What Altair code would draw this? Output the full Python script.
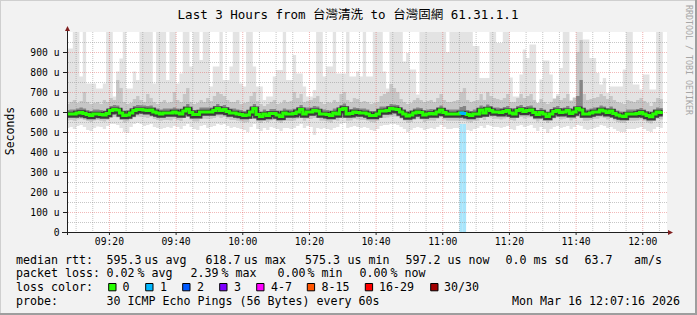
import altair as alt
import pandas as pd

# ---------------- data (one sample per minute, first sample starts 09:07) ----------------
med = [590,590,590,595,598,592,588,583,590,590,
       588,585,593,607,612,610,595,583,585,595,
       607,612,612,610,607,610,600,595,590,595,
       595,595,600,595,590,605,615,597,587,587,
       600,600,600,600,607,617,607,612,603,595,
       595,590,588,583,585,600,617,587,578,590,
       583,593,593,585,578,595,590,590,592,600,
       612,590,600,600,607,605,590,590,587,583,
       595,590,612,618,590,592,600,598,595,595,
       590,583,583,590,605,605,607,617,615,612,
       600,590,580,585,595,600,597,585,590,593,
       590,600,610,598,590,590,590,590,595,592,
       587,583,590,590,610,595,615,607,600,600,
       597,603,607,595,590,607,612,603,607,610,
       598,587,598,590,578,590,603,607,597,600,
       607,592,600,617,610,590,590,595,600,600,
       610,605,597,605,592,585,580,578,590,590,
       590,593,598,590,583,576,590,600,597]

vmax = [918,918,1050,1050,777,1050,743,743,743,718,
        718,743,1050,1050,677,802,868,1050,718,718,
        802,760,1050,1050,1050,1050,743,1050,1050,1050,
        760,1050,1050,743,793,1050,1050,827,1050,1050,
        860,1050,1050,727,827,827,1050,760,760,827,
        1050,1050,743,727,1050,1050,827,727,727,660,
        677,677,777,810,810,1050,760,760,885,793,
        793,727,677,677,710,1050,1050,777,827,827,
        1050,793,793,793,1050,777,777,802,778,1050,
        777,777,1050,1050,1050,802,718,1050,1050,1050,
        1050,853,895,812,812,687,1050,1050,1050,1050,
        1050,1050,1050,1050,900,1050,1050,1050,1050,1050,
        1050,1050,930,930,770,770,770,1050,1050,945,
        945,1050,1050,773,678,678,787,912,870,937,
        937,645,762,857,857,787,670,690,820,1050,
        1050,660,675,1050,1050,962,962,870,870,795,
        737,770,695,728,728,728,728,812,1050,1050,
        737,737,712,787,787,712,712,1050,1050]

p90 = [640,650,660,645,655,700,650,640,645,650,
       640,660,650,670,660,760,720,650,640,645,
       665,680,660,650,690,670,650,640,650,660,
       645,650,700,660,650,690,720,650,640,645,
       660,650,670,655,680,700,690,680,660,650,
       650,660,640,645,650,680,700,655,640,630,
       640,650,660,640,645,660,650,655,700,670,
       690,650,655,660,670,680,650,640,650,645,
       660,650,690,700,660,650,670,665,650,655,
       650,640,645,650,680,690,700,740,720,700,
       665,650,640,645,660,670,660,650,655,660,
       650,670,690,660,650,650,655,660,700,720,
       660,650,655,660,690,660,700,680,670,665,
       660,670,690,650,650,670,690,670,680,690,
       660,645,665,650,640,650,665,680,660,670,
       690,655,670,900,960,690,660,665,670,675,
       690,680,665,680,660,650,645,640,660,655,
       650,660,670,655,645,630,650,670,665]

p75 = [610,612,613,617,622,618,610,605,612,613,
       610,608,615,630,635,632,618,605,607,618,
       630,635,634,632,630,632,622,617,612,618,
       617,618,622,617,613,628,640,620,610,610,
       622,622,623,622,630,640,630,635,625,617,
       617,612,610,605,608,622,640,610,600,612,
       605,615,615,608,600,617,612,612,616,622,
       635,612,622,622,630,628,612,612,610,605,
       617,612,635,642,612,615,622,620,617,618,
       612,605,605,612,628,628,630,640,638,635,
       622,612,602,607,617,622,620,607,612,615,
       612,622,632,620,612,612,612,612,625,630,
       610,605,612,612,632,617,638,630,622,622,
       620,625,630,617,612,630,635,625,630,632,
       620,610,620,612,600,612,625,630,620,622,
       630,615,622,680,760,612,612,617,622,622,
       632,628,620,628,615,607,602,600,612,612,
       612,615,620,612,605,598,612,622,620]

p25 = [578,579,578,583,585,580,576,571,578,579,
       576,573,581,594,598,597,583,571,573,583,
       594,599,600,597,594,597,588,583,578,583,
       583,582,588,583,578,592,602,585,575,575,
       588,588,587,588,594,603,594,599,590,583,
       583,578,576,571,572,588,603,575,566,578,
       571,580,581,573,566,583,578,577,580,588,
       598,578,588,587,594,592,578,578,575,571,
       583,578,598,604,578,580,588,585,583,583,
       578,571,570,578,592,592,594,603,601,598,
       588,578,568,573,583,588,585,573,578,580,
       578,588,597,586,578,578,578,578,580,578,
       575,571,578,578,596,583,601,594,588,588,
       585,590,594,583,578,594,598,590,594,597,
       586,575,586,578,566,578,590,594,585,588,
       594,580,588,600,595,578,578,583,588,588,
       597,592,585,592,580,573,568,566,578,578,
       578,581,586,578,571,564,578,588,585]

p10 = [558,560,556,562,565,560,555,550,558,560,
       556,552,560,570,575,572,560,548,552,562,
       572,578,575,574,570,575,565,560,556,560,
       560,558,566,560,555,570,578,562,552,553,
       565,566,565,566,570,578,570,575,568,560,
       560,556,553,548,550,565,578,552,545,556,
       550,558,560,552,545,560,556,555,558,566,
       574,556,566,565,570,570,556,556,553,548,
       560,556,574,580,556,558,566,563,560,560,
       556,550,548,556,570,570,572,578,578,575,
       566,556,546,550,560,566,562,550,556,558,
       556,566,574,563,556,556,556,556,556,555,
       552,548,556,556,573,560,578,572,566,566,
       563,568,572,560,556,572,575,568,572,574,
       563,552,563,556,545,556,568,572,563,566,
       572,558,566,575,570,556,556,560,566,566,
       574,570,563,570,558,550,546,545,556,556,
       556,558,563,556,548,542,556,566,563]

vmin = [520,525,515,530,535,525,510,505,520,528,
        525,515,530,540,540,535,520,500,495,525,
        540,545,540,530,535,540,525,520,515,520,
        525,520,530,525,515,530,540,525,515,510,
        530,535,520,525,530,540,535,540,530,520,
        525,520,515,510,500,525,540,515,505,520,
        510,525,520,515,505,520,520,515,520,530,
        540,520,530,525,485,520,515,520,515,510,
        520,525,540,545,520,525,530,525,520,525,
        520,510,505,515,530,535,535,540,540,535,
        525,515,500,510,520,525,520,510,515,520,
        515,525,535,525,515,515,520,520,540,540,
        510,505,515,520,530,520,535,530,525,525,
        520,525,530,515,510,530,535,525,530,535,
        520,505,525,515,495,515,525,530,520,525,
        530,515,525,535,530,515,510,515,520,525,
        535,530,520,525,515,505,500,500,515,515,
        515,520,525,515,505,500,515,525,520]

loss_samples = [118, 119]      # samples with 1 of 30 pings lost
loss_count = [1, 1]

first_minute = 7               # 09:07 (minutes after 09:00)
t_start = 7 + 16 / 60          # 09:07:16
t_end = t_start + 180          # 12:07:16

tick_minutes = [20, 40, 60, 80, 100, 120, 140, 160, 180]
tick_labels = ["09:20", "09:40", "10:00", "10:20", "10:40", "11:00", "11:20", "11:40", "12:00"]
minor_minutes = [10, 15, 25, 30, 35, 45, 50, 55, 65, 70, 75, 85, 90, 95, 105, 110, 115,
                 125, 130, 135, 145, 150, 155, 165, 170, 175, 185]
y_major = [100, 200, 300, 400, 500, 600, 700, 800, 900]
y_minor = [50, 150, 250, 350, 450, 550, 650, 750, 850, 950]
y_ticks = [0, 100, 200, 300, 400, 500, 600, 700, 800, 900]
y_tick_labels = ["0", "100 u", "200 u", "300 u", "400 u", "500 u", "600 u", "700 u", "800 u", "900 u"]
y_title = "Seconds"

loss_labels = ["0", "1", "2", "3", "4-7", "8-15", "16-29", "30/30"]
loss_colors = ["#26ff00", "#00b8ff", "#0059ff", "#7e00ff", "#ff00ff", "#ff5500", "#ff0000", "#a10000"]

title_text = "Last 3 Hours from 台灣清洗 to 台灣固網 61.31.1.1"
legend_rows = [
    [("median rtt:", 16), ("595.3", 106.5), ("us avg", 144.5), ("618.7", 205.5), ("us max", 244),
     ("575.3", 305), ("us min", 347.5), ("597.2", 405.5), ("us now", 447.5), ("0.0 ms sd", 505.5),
     ("63.7", 584.5), ("am/s", 634)],
    [("packet loss:", 16), ("0.02", 106.5), ("% avg", 137.5), ("2.39", 190.5), ("% max", 221.5),
     ("0.00", 277.5), ("% min", 307.5), ("0.00", 359.5), ("% now", 390.5)],
    [("loss color:", 16)],
    [("probe:", 16), ("30 ICMP Echo Pings (56 Bytes) every 60s", 106.5), ("Mon Mar 16 12:07:16 2026", 512)],
]
legend_baselines = [263.5, 277.2, 291, 304.5]
swatch_x = [108.7, 145.7, 182.7, 219.7, 256.7, 307.3, 365.3, 430.7]
swatch_label_x = [122.5, 160, 197, 234, 271, 321.5, 379, 444]

# ---------------- layout ----------------
PL, PT, PW, PH = 67, 32, 600, 200
W, H = 697, 315
MONO = "DejaVu Sans Mono"

n = len(med)
cols = {"med": med, "vmax": vmax, "p90": p90, "p75": p75, "p25": p25, "p10": p10, "vmin": vmin}
step_df = pd.DataFrame({k: v + [v[-1]] for k, v in cols.items()})
step_df["t"] = [first_minute + k for k in range(n + 1)]

blue_df = pd.DataFrame({
    "t": [first_minute + k for k in loss_samples] + [first_minute + loss_samples[-1] + 1],
    "med": [med[k] for k in loss_samples] + [med[loss_samples[-1]]],
})
lossbar_df = pd.DataFrame({
    "t0": [first_minute + k for k in loss_samples],
    "t1": [first_minute + k + 1 for k in loss_samples],
    "lo": [0 for _ in loss_samples], "hi": [1050 for _ in loss_samples], "n": loss_count,
})

xs = alt.Scale(domain=[t_start, t_end], nice=False, zero=False)
ys = alt.Scale(domain=[0, 1000], nice=False, zero=True)

base = alt.Chart(step_df)


def band(lo, hi, color):
    return base.mark_area(clip=True, color=color, interpolate="step-after", opacity=1).encode(
        x=alt.X("t:Q", scale=xs, axis=None),
        y=alt.Y(f"{lo}:Q", scale=ys, axis=None),
        y2=f"{hi}:Q",
    )


lossbar = alt.Chart(lossbar_df).mark_rect(clip=True, color="#a8e5fb").encode(
    x=alt.X("t0:Q", scale=xs, axis=None), x2="t1:Q",
    y=alt.Y("lo:Q", scale=ys, axis=None), y2="hi:Q")

smokeA = band("vmin", "vmax", "#e3e3e3")
smokeB = band("p10", "p90", "#c6c6c6")
smokeC = band("p25", "p75", "#858585")

vgrid_minor = alt.Chart(pd.DataFrame({"v": minor_minutes})).mark_rule(
    color="#8f8f8f", opacity=0.5, strokeDash=[1, 1], strokeWidth=1).encode(
    x=alt.X("v:Q", scale=xs, axis=None))
vgrid_major = alt.Chart(pd.DataFrame({"v": tick_minutes})).mark_rule(
    color="#de4f4f", opacity=0.45, strokeDash=[1, 1], strokeWidth=1).encode(
    x=alt.X("v:Q", scale=xs, axis=None))
hgrid_minor = alt.Chart(pd.DataFrame({"v": y_minor})).mark_rule(
    color="#8f8f8f", opacity=0.5, strokeDash=[1, 1], strokeWidth=1, yOffset=0.5).encode(
    y=alt.Y("v:Q", scale=ys, axis=None))
hgrid_major = alt.Chart(pd.DataFrame({"v": y_major})).mark_rule(
    color="#de4f4f", opacity=0.4, strokeDash=[1, 1], strokeWidth=1, yOffset=0.5).encode(
    y=alt.Y("v:Q", scale=ys, axis=None))

halo = base.mark_line(interpolate="step-after", clip=True, color="#2e2e2e",
                      strokeWidth=6, opacity=0.9, yOffset=0.8).encode(
    x=alt.X("t:Q", scale=xs, axis=None), y=alt.Y("med:Q", scale=ys, axis=None))
median_line = base.mark_line(interpolate="step-after", clip=True, color=loss_colors[0],
                             strokeWidth=3).encode(
    x=alt.X("t:Q", scale=xs, axis=None), y=alt.Y("med:Q", scale=ys, axis=None))
blue_line = alt.Chart(blue_df).mark_line(interpolate="step-after", clip=True, color=loss_colors[1],
                                         strokeWidth=3).encode(
    x=alt.X("t:Q", scale=xs, axis=None), y=alt.Y("med:Q", scale=ys, axis=None))

one = pd.DataFrame({"a": [0]})
px = lambda v: alt.value(v)

# axes drawn by hand
xtick_df = pd.DataFrame({"m": tick_minutes, "lab": tick_labels})
x_ticks = alt.Chart(xtick_df).mark_rule(color="#1f1f1f").encode(
    x=alt.X("m:Q", scale=xs, axis=None), y=px(PH), y2=px(PH + 3))
x_labels = alt.Chart(xtick_df).mark_text(font=MONO, fontSize=9.7, align="center", baseline="alphabetic",
                                         color="black").encode(
    x=alt.X("m:Q", scale=xs, axis=None), y=px(245 - PT), text="lab:N")
ytick_df = pd.DataFrame({"v": y_ticks, "lab": y_tick_labels})
y_ticks_m = alt.Chart(ytick_df).mark_rule(color="#1f1f1f", yOffset=0.5).encode(
    y=alt.Y("v:Q", scale=ys, axis=None), x=px(-4), x2=px(0.5))
y_labels = alt.Chart(ytick_df).mark_text(font=MONO, fontSize=9.7, align="right", baseline="middle",
                                         color="black", dy=0.5).encode(
    y=alt.Y("v:Q", scale=ys, axis=None), x=px(59.5 - PL), text="lab:N")
y_title_m = alt.Chart(one).mark_text(text=y_title, font=MONO, fontSize=11.5, angle=270, align="center",
                                     baseline="middle", color="black").encode(
    x=px(10.5 - PL), y=px(131 - PT))

y_axis_line = alt.Chart(one).mark_rule(color="#1f1f1f", strokeWidth=1).encode(
    x=px(0.5), y=px(-5), y2=px(PH + 3))
x_axis_line = alt.Chart(one).mark_rule(color="#1f1f1f", strokeWidth=1).encode(
    x=px(-5), x2=px(PW + 2), y=px(PH + 0.5))
arrow_up = alt.Chart(one).mark_point(shape="M0,-1L1,1L-1,1Z", filled=True, size=25, color="#801f1f",
                                     opacity=1).encode(x=px(0.5), y=px(-3.5))
arrow_right = alt.Chart(one).mark_point(shape="M1,0L-1,-1L-1,1Z", filled=True, size=25, color="#801f1f",
                                        opacity=1).encode(x=px(PW + 3.5), y=px(PH + 0.5))

# frame (3D border)
frame_df = pd.DataFrame({
    "x0": [0, 0, W - 2, 0], "x1": [W, 1, W, W],
    "y0": [0, 0, 0, H - 2], "y1": [1, H, H, H],
    "c": ["#cfcfcf", "#cfcfcf", "#9e9e9e", "#9e9e9e"],
})
frame_df[["x0", "x1"]] -= PL
frame_df[["y0", "y1"]] -= PT
frame = alt.Chart(frame_df).mark_rect().encode(
    x=alt.X("x0:Q", scale=None, axis=None), x2="x1:Q",
    y=alt.Y("y0:Q", scale=None, axis=None), y2="y1:Q",
    color=alt.Color("c:N", scale=None, legend=None))

title = alt.Chart(one).mark_text(text=title_text, font=f"{MONO}, Noto Sans CJK TC", fontSize=12.5,
                                 align="center", baseline="alphabetic", color="black").encode(
    x=px(348 - PL), y=px(19 - PT))

watermark = alt.Chart(one).mark_text(text="RRDTOOL / TOBI OETIKER", font=MONO, fontSize=8.3, angle=90,
                                     align="left", baseline="middle", color="#a6a6a6").encode(
    x=px(687.5 - PL), y=px(5 - PT))

rows = []
for row, yb in zip(legend_rows, legend_baselines):
    for txt, xx in row:
        rows.append({"txt": txt, "x": xx - PL, "y": yb - PT})
for lab, xx in zip(loss_labels, swatch_label_x):
    rows.append({"txt": lab, "x": xx - PL, "y": legend_baselines[2] - PT})
leg_df = pd.DataFrame(rows)
legend_text = alt.Chart(leg_df).mark_text(font=MONO, fontSize=11.63, align="left", baseline="alphabetic",
                                          color="black").encode(
    x=alt.X("x:Q", scale=None, axis=None), y=alt.Y("y:Q", scale=None, axis=None), text="txt:N")

sw_df = pd.DataFrame({
    "x0": [v - PL for v in swatch_x], "x1": [v + 7.3 - PL for v in swatch_x],
    "y0": [283.5 - PT] * len(swatch_x), "y1": [290.8 - PT] * len(swatch_x), "c": loss_colors,
})
swatches = alt.Chart(sw_df).mark_rect(stroke="black", strokeWidth=1).encode(
    x=alt.X("x0:Q", scale=None, axis=None), x2="x1:Q",
    y=alt.Y("y0:Q", scale=None, axis=None), y2="y1:Q",
    fill=alt.Color("c:N", scale=None, legend=None))

chart = alt.layer(
    lossbar, smokeA, smokeB, smokeC,
    vgrid_minor, vgrid_major, hgrid_minor, hgrid_major,
    halo, median_line, blue_line,
    x_ticks, x_labels, y_ticks_m, y_labels, y_title_m,
    y_axis_line, x_axis_line, arrow_up, arrow_right,
    frame, title, watermark, legend_text, swatches,
).properties(
    width=PW, height=PH,
    autosize=alt.AutoSizeParams(type="none"),
    padding={"left": PL, "top": PT, "right": W - PL - PW, "bottom": H - PT - PH},
    background="#f2f2f2",
).configure_view(fill="white", stroke=None)

chart.save("out.html", embed_options={"renderer": "svg", "actions": False})
